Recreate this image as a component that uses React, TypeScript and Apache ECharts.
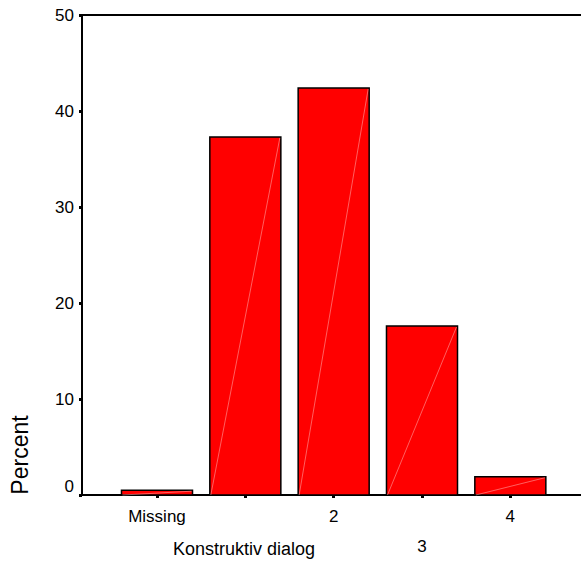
import React, { useEffect, useRef } from "react";
import * as echarts from "echarts";

const categories = ["Missing", "1", "2", "3", "4"];
const percentValues = [0.5, 37.3, 42.4, 17.6, 1.9];
const yTicks = [0, 10, 20, 30, 40, 50];
const xTitle = "Konstruktiv dialog";
const yTitle = "Percent";

const FONT = "'Liberation Sans', Arial, sans-serif";

export default function App() {
  const ref = useRef<HTMLDivElement>(null);

  useEffect(() => {
    if (!ref.current) return;
    const chart = echarts.init(ref.current, undefined, { renderer: "svg" });
    const idx = categories.map((_, i) => i);
    const halfW = 0.402;

    chart.setOption({
      animation: false,
      backgroundColor: "#fff",
      textStyle: { fontFamily: FONT },
      grid: { left: 82, right: 0, top: 15, bottom: 63 },
      xAxis: [
        {
          type: "value",
          min: -0.849,
          max: 4.8,
          splitLine: { show: false },
          axisLine: { show: true, onZero: false, lineStyle: { color: "#000", width: 2 } },
          axisTick: {
            show: true,
            customValues: idx,
            length: 3,
            lineStyle: { color: "#000", width: 3 },
          },
          axisLabel: {
            show: true,
            customValues: idx,
            color: "#000",
            fontSize: 17,
            fontFamily: FONT,
            lineHeight: 30,
            margin: 6,
            verticalAlign: "top",
            formatter: (v: number) => {
              const i = Math.round(v);
              if (i === 1) return "";
              return i % 2 === 1 ? "\n" + categories[i] : categories[i];
            },
          },
        },
        {
          type: "value",
          position: "top",
          min: -0.849,
          max: 4.8,
          splitLine: { show: false },
          axisLine: { show: true, onZero: false, lineStyle: { color: "#000", width: 2 } },
          axisTick: { show: false },
          axisLabel: { show: false },
        },
      ],
      yAxis: {
        type: "value",
        min: yTicks[0],
        max: yTicks[yTicks.length - 1],
        interval: 10,
        splitLine: { show: false },
        axisLine: { show: true, onZero: false, lineStyle: { color: "#000", width: 2 } },
        axisTick: { show: true, length: 3, lineStyle: { color: "#000", width: 3 } },
        axisLabel: {
          color: "#000",
          fontSize: 17,
          fontFamily: FONT,
          margin: 8,
          formatter: (v: number) => (v === 0 ? "{z|0}" : String(v)),
          rich: {
            z: { fontSize: 17, fontFamily: FONT, color: "#000", padding: [0, 0, 18, 0] },
          },
        },
      },
      graphic: [
        {
          type: "text",
          x: 244,
          y: 549,
          style: {
            text: xTitle,
            fontSize: 18,
            fontFamily: FONT,
            fill: "#000",
            align: "center",
            verticalAlign: "middle",
          },
        },
        {
          type: "text",
          x: 8,
          y: 455,
          rotation: Math.PI / 2,
          style: {
            text: yTitle,
            fontSize: 23,
            fontFamily: FONT,
            fill: "#000",
            align: "center",
            verticalAlign: "top",
          },
        },
      ],
      series: [
        {
          type: "custom",
          xAxisIndex: 0,
          yAxisIndex: 0,
          encode: { x: 0, y: 1 },
          data: idx.map((i) => [i, percentValues[i]]),
          renderItem: (params: any, api: any) => {
            const i = api.value(0);
            const v = api.value(1);
            const tl = api.coord([i - halfW, v]);
            const br = api.coord([i + halfW, 0]);
            return {
              type: "group",
              children: [
                {
                  type: "rect",
                  shape: { x: tl[0], y: tl[1], width: br[0] - tl[0], height: br[1] - tl[1] },
                  style: { fill: "#ff0000", stroke: "#000", lineWidth: 1.5 },
                },
                {
                  type: "line",
                  shape: { x1: tl[0] + 1, y1: br[1], x2: br[0] - 1, y2: tl[1] + 1 },
                  style: { stroke: "rgba(255,200,200,0.8)", lineWidth: 0.6 },
                },
              ],
            };
          },
        },
      ],
    });
    return () => chart.dispose();
  }, []);

  return <div ref={ref} style={{ width: 581, height: 561, position: "absolute", left: 0, top: 0 }} />;
}
